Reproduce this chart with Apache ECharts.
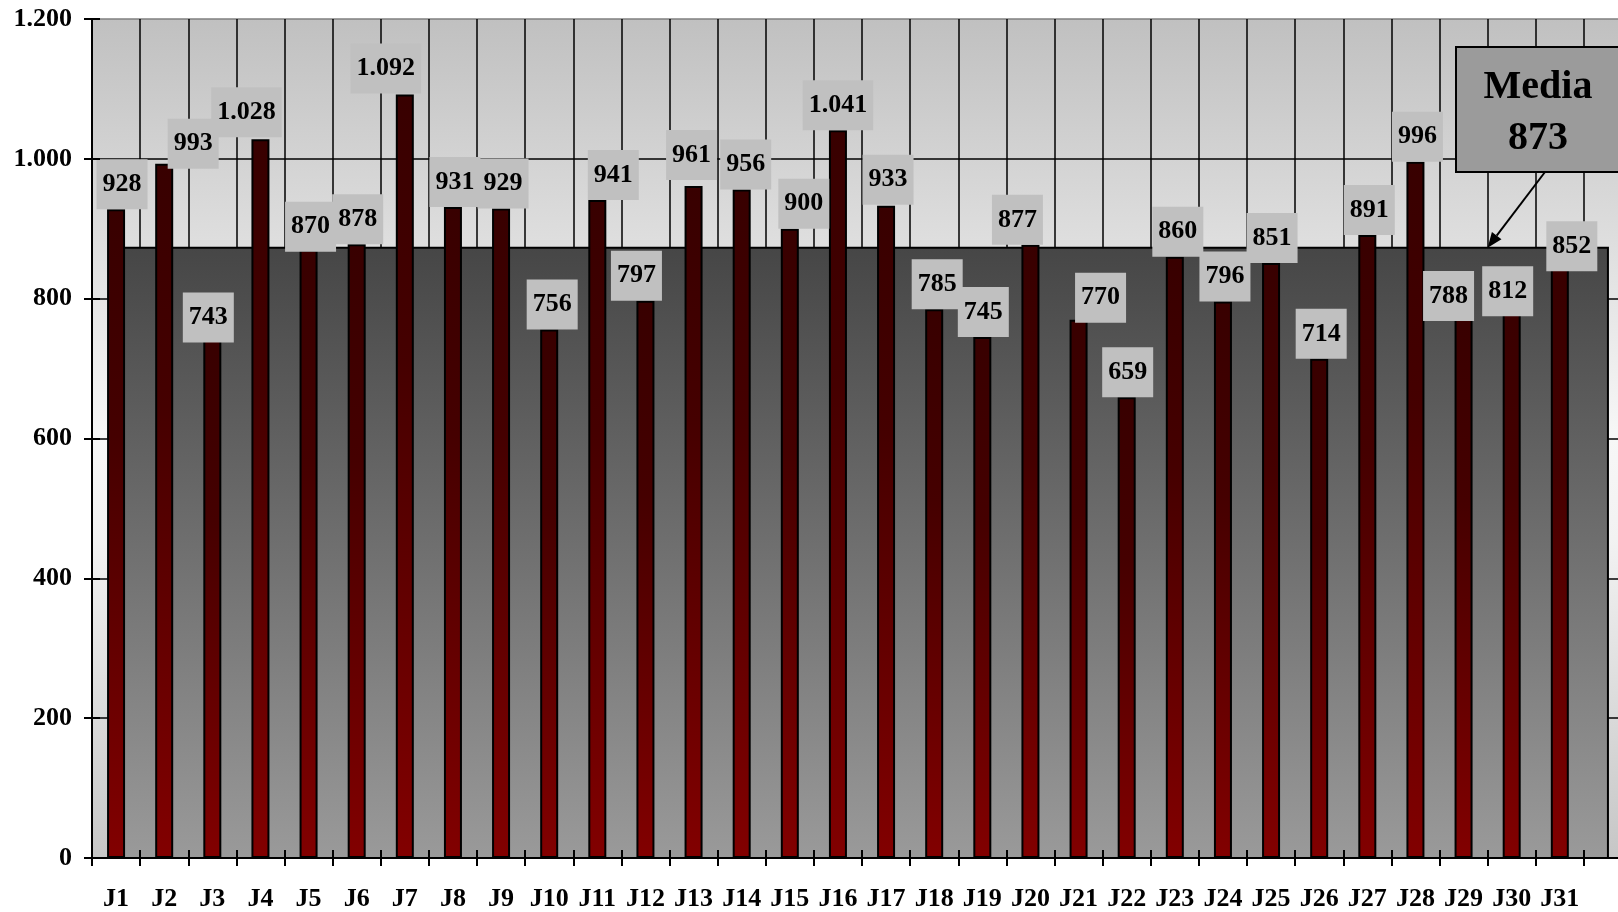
<!DOCTYPE html>
<html>
<head>
<meta charset="utf-8">
<script src="https://cdn.jsdelivr.net/npm/echarts@6/dist/echarts.min.js"></script>
<style>
html,body{margin:0;padding:0;background:#fff;overflow:hidden;width:1618px;height:912px;}
#c{width:1640px;height:912px;}
</style>
</head>
<body>
<div id="c"></div>
<script>
const categories = ['J1','J2','J3','J4','J5','J6','J7','J8','J9','J10','J11','J12','J13','J14','J15','J16','J17','J18','J19','J20','J21','J22','J23','J24','J25','J26','J27','J28','J29','J30','J31',''];
const values = [928,993,743,1028,870,878,1092,931,929,756,941,797,961,956,900,1041,933,785,745,877,770,659,860,796,851,714,891,996,788,812,852];
const average = 873;
const mediaTitle = 'Media';
const yTicks = [0,200,400,600,800,1000,1200];
// per-label nudges of the value boxes (pixels), as placed in the original
const labelOffsets = [[6,0],[29,5],[-4,4],[-14,-2],[2,2],[1,0],[-19,-1],[2,0],[2,0],[3,0],[16,0],[-9,0],[-2,-6],[4,0],[14,0],[0,0],[2,-1],[3,0],[1,0],[-13,0],[22,3],[1,0],[3,0],[2,0],[1,0],[2,0],[2,0],[2,0],[-15,14],[-4,26],[12,9]];

function fmt(v){
  v = Math.round(v);
  if (v >= 1000) return Math.floor(v/1000) + '.' + String(v % 1000).padStart(3,'0');
  return String(v);
}

const FONT = '"Liberation Serif", "Times New Roman", serif';
const chart = echarts.init(document.getElementById('c'), null, {renderer:'canvas', width:1640, height:912});

const option = {
  animation: false,
  grid: {
    left: 92, top: 19, bottom: 53, right: 8,
    show: true,
    borderColor: '#808080', borderWidth: 1.5,
    backgroundColor: new echarts.graphic.LinearGradient(0,0,0,1,[
      {offset:0, color:'#c0c0c0'},
      {offset:0.3, color:'#e2e2e2'},
      {offset:0.5, color:'#f7f7f7'},
      {offset:0.62, color:'#f2f2f2'},
      {offset:1, color:'#c6c6c6'}
    ])
  },
  xAxis: [{
    type: 'category',
    data: categories,
    boundaryGap: true,
    axisLine: {show:true, lineStyle:{color:'#000', width:2}},
    axisTick: {show:true, length:8, lineStyle:{color:'#000', width:2}},
    axisLabel: {color:'#000', fontFamily:FONT, fontWeight:'bold', fontSize:26, margin:28, interval:0},
    splitLine: {show:true, lineStyle:{color:'#000', width:1.5}}
  },{
    type: 'category',
    data: categories,
    position: 'bottom',
    boundaryGap: true,
    z: 10,
    axisLine: {show:false},
    axisTick: {show:true, inside:true, length:8, lineStyle:{color:'#000', width:2}},
    axisLabel: {show:false},
    splitLine: {show:false}
  }],
  yAxis: [{
    type: 'value',
    min: 0, max: 1200, interval: 200,
    axisLine: {show:true, lineStyle:{color:'#000', width:2}},
    axisTick: {show:true, length:8, lineStyle:{color:'#000', width:2}},
    axisLabel: {color:'#000', fontFamily:FONT, fontWeight:'bold', fontSize:26, margin:20,
      formatter: v => yTicks.indexOf(v) >= 0 ? fmt(v) : ''},
    splitLine: {show:true, showMaxLine:false, lineStyle:{color:'#000', width:1.5}}
  },{
    type: 'value',
    min: 0, max: 1200, interval: 200,
    position: 'left',
    z: 10,
    axisLine: {show:false},
    axisTick: {show:true, inside:true, length:8, lineStyle:{color:'#000', width:2}},
    axisLabel: {show:false},
    splitLine: {show:false}
  }],
  series: [{
    type: 'custom',
    name: mediaTitle,
    xAxisIndex: 0, yAxisIndex: 0,
    data: [[0, categories.length - 1, average]],
    encode: {x:[0,1], y:2},
    z: 2,
    renderItem: function(params, api){
      const p1 = api.coord([api.value(0), api.value(2)]);
      const p2 = api.coord([api.value(1), 0]);
      return {
        type: 'rect',
        shape: {x:p1[0], y:p1[1], width:p2[0]-p1[0], height:p2[1]-p1[1]},
        style: {
          fill: new echarts.graphic.LinearGradient(0,0,0,1,[
            {offset:0, color:'#464646'},
            {offset:1, color:'#9a9a9a'}
          ]),
          stroke: '#000', lineWidth: 2
        }
      };
    }
  },{
    type: 'bar',
    xAxisIndex: 0, yAxisIndex: 0,
    data: values,
    barWidth: 18,
    z: 3,
    itemStyle: {
      color: new echarts.graphic.LinearGradient(0,0,0,1,[
        {offset:0, color:'#380000'},
        {offset:0.35, color:'#450000'},
        {offset:1, color:'#820000'}
      ]),
      borderColor: '#000', borderWidth: 2
    },
    label: {
      show: true, position: 'top', distance: 0,
      formatter: p => fmt(p.value),
      color: '#000', fontFamily: FONT, fontWeight: 'bold', fontSize: 26,
      lineHeight: 26,
      backgroundColor: '#c0c0c0',
      padding: [12, 6, 12, 6]
    },
    labelLayout: function(params){
      const o = labelOffsets[params.dataIndex] || [0,0];
      return {dx: o[0], dy: o[1], hideOverlap: false};
    }
  }]
};
chart.setOption(option);

// Media annotation box and arrow
const boxX = 1456, boxY = 47, boxW = 166, boxH = 125;
const start = [1545, boxY + boxH];
const endPt = chart.convertToPixel({xAxisIndex:0, yAxisIndex:0}, [28, average]);
const endPt2 = chart.convertToPixel({xAxisIndex:0, yAxisIndex:0}, [29, average]);
const end = [(endPt[0] + endPt2[0]) / 2, endPt[1]];
const dx = end[0]-start[0], dy = end[1]-start[1];
const L = Math.sqrt(dx*dx+dy*dy), ux = dx/L, uy = dy/L;
const hl = 15, hw = 6;
const base = [end[0]-ux*hl, end[1]-uy*hl];
const head = [[end[0],end[1]],[base[0]-uy*hw, base[1]+ux*hw],[base[0]+uy*hw, base[1]-ux*hw]];

chart.setOption({
  graphic: [
    {type:'rect', z:100, shape:{x:boxX, y:boxY, width:boxW, height:boxH},
      style:{fill:'#9b9b9b', stroke:'#000', lineWidth:2}},
    {type:'text', z:101, x:boxX+boxW/2-1, y:boxY+41,
      style:{text:mediaTitle, fill:'#000', font:'bold 40px '+FONT, align:'center', verticalAlign:'middle'}},
    {type:'text', z:101, x:boxX+boxW/2-1, y:boxY+92,
      style:{text:fmt(average), fill:'#000', font:'bold 40px '+FONT, align:'center', verticalAlign:'middle'}},
    {type:'line', z:100, shape:{x1:start[0], y1:start[1], x2:base[0], y2:base[1]},
      style:{stroke:'#000', lineWidth:2}},
    {type:'polygon', z:100, shape:{points:head}, style:{fill:'#000'}}
  ]
});
</script>
</body>
</html>
